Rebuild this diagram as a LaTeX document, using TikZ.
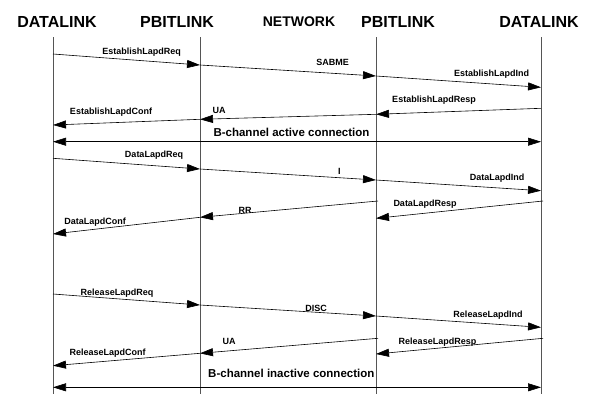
\documentclass[tikz,border=0pt]{standalone}
\usepackage{fontspec}
\setmainfont{Liberation Sans}
\usetikzlibrary{arrows.meta}
\definecolor{life}{HTML}{555555}

\begin{document}
\begin{tikzpicture}[x=1pt,y=-1pt,>={Triangle[length=13pt,width=8pt]},
    lifeline/.style={draw=life,line width=0.8pt},
    msg/.style={->,line width=0.6pt},
    lbl/.style={font=\bfseries\fontsize{9}{10}\selectfont,inner sep=0pt,anchor=base},
    chan/.style={font=\bfseries\fontsize{11.5}{13}\selectfont,inner sep=0pt,anchor=base},
    head/.style={font=\bfseries\fontsize{16}{18}\selectfont,inner sep=0pt,anchor=base}]
  \useasboundingbox (0,0) rectangle (596,394);

  % entities
  \node[head] (hdlA) at (57,27.3) {DATALINK};
  \node[head] (hpbA) at (177,27.3) {PBITLINK};
  \node[head,font=\bfseries\fontsize{14}{16}\selectfont] (hnet) at (299,26.7) {NETWORK};
  \node[head] (hpbB) at (398,27.3) {PBITLINK};
  \node[head] (hdlB) at (539,27.3) {DATALINK};
  \foreach \n/\x in {dlA/53, pbA/200, pbB/376, dlB/541}
    \draw[lifeline] (\x,37) coordinate (\n) -- (\x,394);

  % establish
  \path (53,54) coordinate (eA) (200,65) coordinate (eB) (376,76) coordinate (eC) (541,87.3) coordinate (eD);
  \draw[msg] (eA) -- (eB);
  \draw[msg] (eB) -- (eC);
  \draw[msg] (eC) -- (eD);
  \node[lbl] (tEReq) at (141.7,54.5) {EstablishLapdReq};
  \node[lbl] (tSabme) at (332.7,65.5) {SABME};
  \node[lbl] (tEInd) at (491.7,76.5) {EstablishLapdInd};

  \path (541,108.3) coordinate (fA) (376,114.3) coordinate (fB) (200,119.3) coordinate (fC) (53,125) coordinate (fD);
  \draw[msg] (fA) -- (fB);
  \draw[msg] (fB) -- (fC);
  \draw[msg] (fC) -- (fD);
  \node[lbl] (tEResp) at (434,102.5) {EstablishLapdResp};
  \node[lbl] (tUa) at (219,113) {UA};
  \node[lbl] (tEConf) at (111,114) {EstablishLapdConf};

  \path (53,141.7) coordinate (actA) (541,141.7) coordinate (actB);
  \draw[msg,<->] (actA) -- (actB);
  \node[chan] (tAct) at (291.5,136.5) {B-channel active connection};

  % data
  \path (53,158.3) coordinate (dA) (200,169) coordinate (dB) (376,180) coordinate (dC) (541,190.7) coordinate (dD);
  \draw[msg] (dA) -- (dB);
  \draw[msg] (dB) -- (dC);
  \draw[msg] (dC) -- (dD);
  \node[lbl] (tDReq) at (154,157) {DataLapdReq};
  \node[lbl] (tI) at (339.3,174) {I};
  \node[lbl] (tDInd) at (497,180.5) {DataLapdInd};

  \path (543,201) coordinate (gA) (376,218.3) coordinate (gB) (378,201) coordinate (gC) (200,217.3) coordinate (gD) (53,234) coordinate (gE);
  \draw[msg] (gA) -- (gB);
  \draw[msg] (gC) -- (gD);
  \draw[msg] (gD) -- (gE);
  \node[lbl] (tDResp) at (425,206.5) {DataLapdResp};
  \node[lbl] (tRr) at (245,213) {RR};
  \node[lbl] (tDConf) at (95,224) {DataLapdConf};

  % release
  \path (53,294) coordinate (rA) (200,305) coordinate (rB) (376,316) coordinate (rC) (541,327.3) coordinate (rD);
  \draw[msg] (rA) -- (rB);
  \draw[msg] (rB) -- (rC);
  \draw[msg] (rC) -- (rD);
  \node[lbl] (tRReq) at (117,295) {ReleaseLapdReq};
  \node[lbl] (tDisc) at (316,311) {DISC};
  \node[lbl] (tRInd) at (488,317) {ReleaseLapdInd};

  \path (543,338.3) coordinate (sA) (376,354) coordinate (sB) (378,338.3) coordinate (sC) (200,353.3) coordinate (sD) (53,365.7) coordinate (sE);
  \draw[msg] (sA) -- (sB);
  \draw[msg] (sC) -- (sD);
  \draw[msg] (sD) -- (sE);
  \node[lbl] (tRResp) at (437.5,344.5) {ReleaseLapdResp};
  \node[lbl] (tUa2) at (229,344) {UA};
  \node[lbl] (tRConf) at (107.7,355) {ReleaseLapdConf};

  \path (53,387.3) coordinate (inaA) (541,387.3) coordinate (inaB);
  \draw[msg,<->] (inaA) -- (inaB);
  \node[chan] (tIna) at (291.3,377) {B-channel inactive connection};
\end{tikzpicture}
\end{document}
